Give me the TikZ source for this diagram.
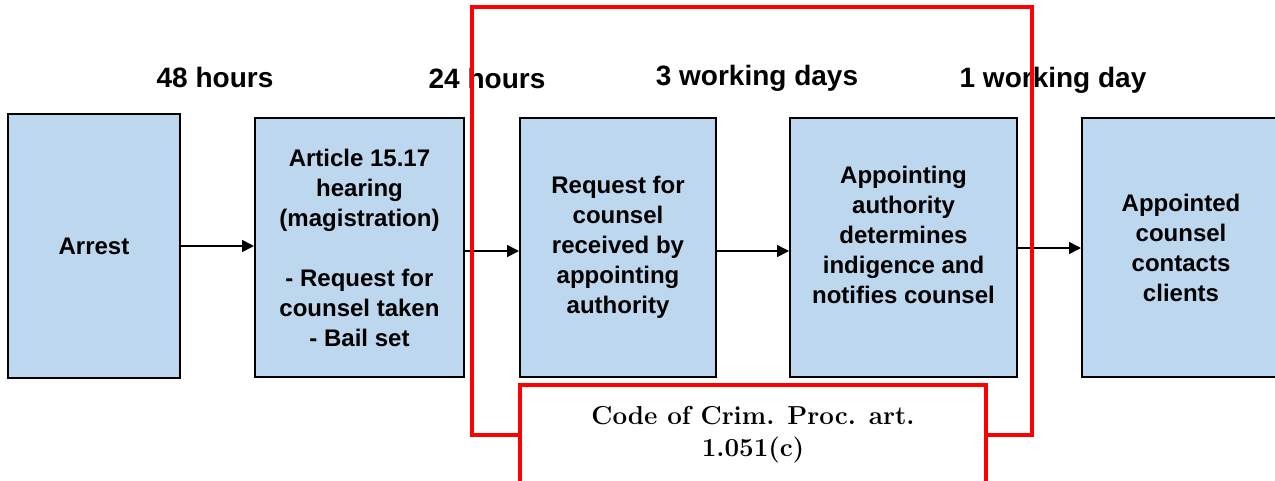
\documentclass[tikz,border=0pt]{standalone}
\usepackage{fontspec}
\newfontfamily\arialfont{Liberation Sans}
\usetikzlibrary{arrows.meta}
\definecolor{stepblue}{RGB}{189,215,238}
\definecolor{lawred}{RGB}{255,0,0}
\tikzset{
  stepbox/.style={draw=black, line width=2pt, fill=stepblue, inner sep=0pt,
    font=\arialfont\bfseries\fontsize{24}{30}\selectfont, align=center},
  timelabel/.style={font=\arialfont\bfseries\fontsize{28}{32}\selectfont, inner sep=0pt},
  flow/.style={line width=1.6pt, -{Triangle[length=12pt,width=12pt]}},
  lawframe/.style={draw=lawred, line width=4pt},
}
\begin{document}
\begin{tikzpicture}[x=1pt,y=-1pt]
\useasboundingbox (0,0) rectangle (1275,480);

% process steps
\node[stepbox, minimum width=172pt, minimum height=264pt] (arrest) at (94,246) {Arrest};
\node[stepbox, minimum width=209pt, minimum height=259pt] (hearing) at (359.5,247.5)
  {Article 15.17\\hearing\\(magistration)\\[30pt]- Request for\\counsel taken\\- Bail set};
\node[stepbox, minimum width=196pt, minimum height=259pt] (request) at (618,247.5) {};
\node[align=center, font=\arialfont\bfseries\fontsize{24}{30}\selectfont, inner sep=0pt]
  at (request.center) {Request for\\counsel\\received by\\appointing\\authority};
\node[stepbox, minimum width=227pt, minimum height=259pt] (determine) at (903.5,247.5) {};
\node[align=center, font=\arialfont\bfseries\fontsize{24}{30}\selectfont, inner sep=0pt]
  at (903.5,235) {Appointing\\authority\\determines\\indigence and\\notifies counsel};
\node[stepbox, minimum width=198pt, minimum height=259pt] (contact) at (1181,247.5)
  {Appointed\\counsel\\contacts\\clients};

% connectors
\draw[flow] (arrest.east) -- (hearing.west |- arrest.east);
\draw[flow] (hearing.east |- 0,251) -- (request.west |- 0,251);
\draw[flow] (request.east |- 0,251) -- (determine.west |- 0,251);
\draw[flow] (determine.east |- 0,248) -- (contact.west |- 0,248);

% time limits
\node[timelabel] (t1) at (215,77) {48 hours};
\node[timelabel] (t2) at (487,78) {24 hours};
\node[timelabel] (t3) at (757,78) {3 working days};
\node[timelabel] (t4) at (1053,80) {1 working day};

% statutory frame
\draw[lawframe] (472,7) rectangle (1032,435);
\node[lawframe, fill=white, minimum width=466pt, minimum height=101pt, inner sep=0pt,
  anchor=north] (code) at (753,383) {};
\node[font=\bfseries\fontsize{26}{32}\selectfont, align=center, inner sep=0pt]
  (codetext) at (753,435) {Code of Crim. Proc. art.\\1.051(c)};
\end{tikzpicture}
\end{document}
